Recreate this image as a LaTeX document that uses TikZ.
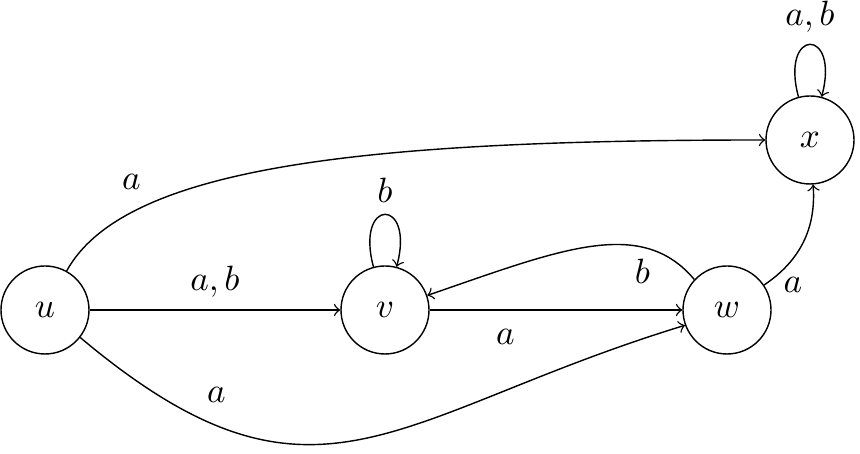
\documentclass[tikz,border=0pt]{standalone}
\usepackage{amsmath}
\usetikzlibrary{arrows.meta,positioning}

\begin{document}
\begin{tikzpicture}[>=to,
    state/.style={draw,circle,minimum size=0.88cm,inner sep=0pt},
    every loop/.style={min distance=5mm,looseness=8}]
  \useasboundingbox (0,0) rectangle (8.6,4.54);
  \node[state] (u) at (0.45,1.44) {$u$};
  \node[state] (v) at (3.85,1.44) {$v$};
  \node[state] (w) at (7.27,1.44) {$w$};
  \node[state] (x) at (8.10,3.14) {$x$};
  \draw[->] (u) -- node[above] {$a,b$} (v);
  \draw[->] (v) -- node[below=2pt,pos=0.3] {$a$} (w);
  \draw[->] (w.137) .. controls +(130:0.83) and +(19:1.4) .. node[below,pos=0.28] {$b$} (v.19);
  \draw[->] (w) to[bend right] node[right,pos=0.0,xshift=2pt] {$a$} (x);
  \draw[->] (u.61) .. controls +(61:1.2) and +(-4,0) .. node[above left,pos=0.27] {$a$} (x.west);
  \draw[->] (u.-38) to[out=-40,in=197,looseness=1.3] node[above=3pt,pos=0.22] {$a$} (w.200);
  \draw[->] (v) to[loop above] node[above] {$b$} (v);
  \draw[->] (x) to[loop above] node[above] {$a,b$} (x);
\end{tikzpicture}
\end{document}
